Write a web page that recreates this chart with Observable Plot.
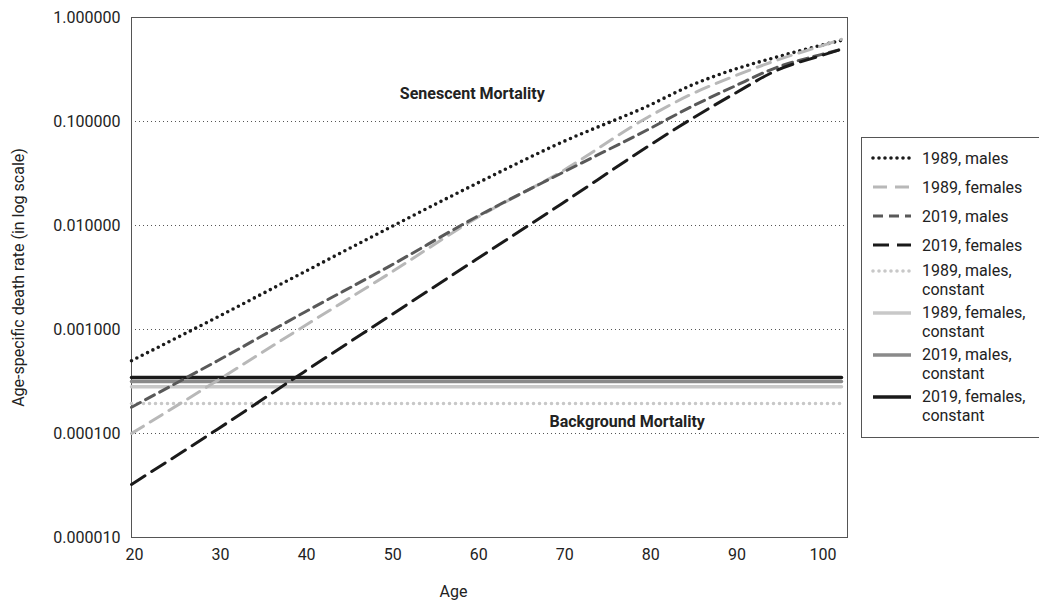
<!DOCTYPE html>
<html><head><meta charset="utf-8">
<script src="https://cdn.jsdelivr.net/npm/d3@7"></script>
<script src="https://cdn.jsdelivr.net/npm/@observablehq/plot@0.6"></script>
<style>
body{margin:0;background:#fff;overflow:hidden;font-family:Roboto,sans-serif;}
#wrap{position:relative;width:1039px;height:604px;}
#legend{position:absolute;left:861px;top:137px;width:200px;height:299px;border:1px solid #555;background:#fff;}
.item{position:absolute;left:9px;font-size:16px;color:#222;line-height:19px;}
.item svg{position:absolute;left:0;top:0;}
.item span{position:absolute;left:51px;top:-9.5px;white-space:nowrap;}
</style></head><body><div id="wrap"></div>
<script>
// Ages (years) at which curves were read
const ages = [20, 30, 40, 50, 60, 70, 80, 85, 90, 95, 100, 102.5];
// Age-specific death rates
const males1989   = [0.000501, 0.00132, 0.00355, 0.00955, 0.0251, 0.0631, 0.141, 0.222, 0.316, 0.417, 0.537, 0.603];
const females1989 = [0.000100, 0.000324, 0.00107, 0.00347, 0.0117, 0.0331, 0.110, 0.182, 0.272, 0.389, 0.528, 0.617];
const males2019   = [0.000179, 0.000501, 0.00145, 0.00407, 0.0120, 0.0320, 0.0836, 0.138, 0.217, 0.332, 0.437, 0.495];
const females2019 = [0.0000324, 0.000110, 0.000389, 0.00135, 0.00468, 0.0162, 0.0575, 0.105, 0.184, 0.311, 0.427, 0.495];
// Constant (background) rates
const constantNames = ["1989, males, constant", "1989, females, constant", "2019, males, constant", "2019, females, constant"];
const constantRates = [0.000194, 0.000281, 0.000316, 0.000346];
const curveNames = ["1989, males", "1989, females", "2019, males", "2019, females"];
// Axis ticks
const xTicks = [20, 30, 40, 50, 60, 70, 80, 90, 100];
const yTicks = [0.00001, 0.0001, 0.001, 0.01, 0.1, 1];
// Annotations (label, age, rate)
const annoLabels = ["Senescent Mortality", "Background Mortality"];
const annoAges = [59.6, 77.6];
const annoRates = [0.186, 0.00013];

const curveStyles = [
  {stroke: "#1a1a1a", strokeWidth: 3.6, strokeDasharray: "0,6", strokeLinecap: "round"},
  {stroke: "#b8b8b8", strokeWidth: 3, strokeDasharray: "14,8"},
  {stroke: "#595959", strokeWidth: 3, strokeDasharray: "10,6"},
  {stroke: "#1a1a1a", strokeWidth: 3, strokeDasharray: "16,8"}
];
const constStyles = [
  {stroke: "#c8c8c8", strokeWidth: 3.6, strokeDasharray: "0,6", strokeLinecap: "round"},
  {stroke: "#c8c8c8", strokeWidth: 3.5},
  {stroke: "#8a8a8a", strokeWidth: 3.5},
  {stroke: "#1a1a1a", strokeWidth: 3.5}
];

const curveSeries = [males1989, females1989, males2019, females2019];
const curveData = curveSeries.map((vals, i) => ages.map((a, j) => ({age: a, rate: vals[j], name: curveNames[i]})));
const constData = constantRates.map((r, i) => [{age: ages[0], rate: r}, {age: ages[ages.length - 1], rate: r}]);
const annos = annoLabels.map((l, i) => ({label: l, age: annoAges[i], rate: annoRates[i]}));

const chart = Plot.plot({
  width: 1039, height: 604,
  marginLeft: 131, marginTop: 17, marginBottom: 67, marginRight: 192,
  style: {fontFamily: 'Roboto, sans-serif', fontSize: "16px", color: "#222", background: "#fff"},
  x: {domain: [20, 103.2], label: null},
  y: {type: "log", domain: [0.00001, 1], label: null},
  marks: [
    Plot.gridY(yTicks.slice(0, -1), {stroke: "#555", strokeOpacity: 1, strokeWidth: 1, strokeDasharray: "1,3"}),
    Plot.axisY(yTicks, {tickSize: 0, tickPadding: 11, tickFormat: d3.format(".6f"), fontSize: 16, label: null}),
    Plot.axisX(xTicks, {tickSize: 0, tickPadding: 11, dx: 3, fontSize: 16, label: null}),
    Plot.frame({stroke: "#555", strokeWidth: 1}),
    ...constData.map((d, i) => Plot.line(d, {x: "age", y: "rate", ...constStyles[i]})),
    ...curveData.map((d, i) => Plot.line(d, {x: "age", y: "rate", curve: "monotone-x", ...curveStyles[i]})),
    Plot.text(annos, {x: "age", y: "rate", text: "label", fontWeight: "bold", fontSize: 16, fill: "#222"}),
    Plot.text(["Age-specific death rate (in log scale)"], {frameAnchor: "left", textAnchor: "middle", dx: -113, rotate: -90, fontSize: 16, fill: "#222"}),
    Plot.text(["Age"], {frameAnchor: "bottom", textAnchor: "middle", dx: -36, dy: 59, fontSize: 16, fill: "#222"})
  ]
});

const wrap = document.getElementById("wrap");
wrap.appendChild(chart);

// Legend
const legend = document.createElement("div");
legend.id = "legend";
const allNames = curveNames.concat(constantNames);
const allStyles = curveStyles.concat(constStyles);
let rowTop = 20;
allNames.forEach((name, i) => {
  const item = document.createElement("div");
  item.className = "item";
  item.style.top = (i < 4 ? rowTop : rowTop - 2.5) + "px";
  const st = allStyles[i];
  const svg = d3.create("svg").attr("width", 44).attr("height", 8).style("top", "-4px").style("overflow", "visible");
  svg.append("line").attr("x1", 2).attr("x2", 40).attr("y1", 4).attr("y2", 4)
    .attr("stroke", st.stroke).attr("stroke-width", st.strokeWidth)
    .attr("stroke-dasharray", st.strokeDasharray || null)
    .attr("stroke-linecap", st.strokeLinecap || "butt");
  item.appendChild(svg.node());
  const span = document.createElement("span");
  const parts = name.split(", constant");
  span.innerHTML = parts.length > 1 ? parts[0] + ",<br>constant" : name;
  item.appendChild(span);
  legend.appendChild(item);
  rowTop += (i < 4 ? 29 : 42);
  if (i === 3) rowTop -= 1;
});
wrap.appendChild(legend);
</script>
</body></html>
